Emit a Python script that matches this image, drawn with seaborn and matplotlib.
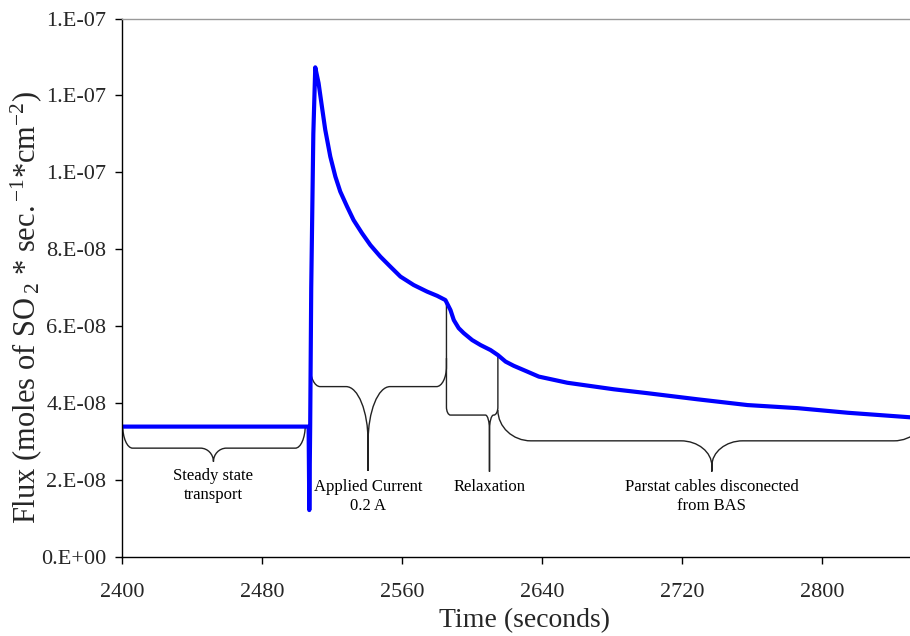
import matplotlib
matplotlib.use("Agg")
import matplotlib.pyplot as plt
from matplotlib.path import Path
from matplotlib.patches import PathPatch
from matplotlib.ticker import FuncFormatter, MultipleLocator
import seaborn as sns
import pandas as pd

# Measured SO2 flux through the membrane over time
time_s = [2400, 2506.5, 2506.9, 2507.4, 2508.0, 2509.2, 2510.3, 2512.2, 2514.1, 2516.0,
          2518.9, 2521.8, 2524.6, 2528.5, 2532.2, 2537.0, 2541.8, 2547.5, 2553.2, 2559.0,
          2566.6, 2574.2, 2580.0, 2584.7, 2587.6, 2589.5, 2592.3, 2595.2, 2600.0, 2604.8,
          2610.5, 2614.7, 2619.1, 2623.8, 2631.5, 2638.1, 2654.4, 2681.0, 2700.0, 2728.8,
          2757.4, 2786.0, 2814.7, 2851.0]
flux = [3.39e-8, 3.39e-8, 1.22e-8, 3.39e-8, 7.0e-8, 11.0e-8, 12.73e-8, 12.32e-8, 11.71e-8, 11.11e-8,
        10.41e-8, 9.89e-8, 9.50e-8, 9.11e-8, 8.76e-8, 8.42e-8, 8.11e-8, 7.81e-8, 7.55e-8, 7.29e-8,
        7.07e-8, 6.90e-8, 6.79e-8, 6.68e-8, 6.42e-8, 6.16e-8, 5.95e-8, 5.82e-8, 5.64e-8, 5.51e-8,
        5.38e-8, 5.25e-8, 5.08e-8, 4.97e-8, 4.82e-8, 4.69e-8, 4.53e-8, 4.36e-8, 4.26e-8, 4.10e-8,
        3.95e-8, 3.87e-8, 3.75e-8, 3.63e-8]

# Experiment phases marked with curly braces
phase_labels = ["Steady state\ntransport", "Applied Current\n0.2 A", "Relaxation",
                "Parstat cables disconected\nfrom BAS"]
phase_start = [2400.2, 2507.4, 2585.3, 2614.7]
phase_end = [2504.6, 2585.3, 2614.7, 2860.0]
phase_mid = [2452.1, 2540.5, 2609.9, 2737.0]

sns.set_theme(style="white")
plt.rcParams["font.family"] = ["Liberation Serif", "DejaVu Serif"]
plt.rcParams["mathtext.fontset"] = "custom"
plt.rcParams["mathtext.rm"] = "Liberation Serif"
plt.rcParams["mathtext.it"] = "Liberation Serif:italic"
plt.rcParams["mathtext.bf"] = "Liberation Serif:bold"

fig = plt.figure(figsize=(9.10, 6.36), dpi=100)
ax = fig.add_axes([122.3 / 910, 79 / 636, (927 - 122.3) / 910, (557 - 18.5) / 636])

df = pd.DataFrame({"Time": time_s, "Flux": flux})
sns.lineplot(data=df, x="Time", y="Flux", ax=ax, color="#0000FF", linewidth=3.0,
             solid_joinstyle="round", solid_capstyle="round")

ax.set_xlim(2400, 2860)
ax.set_ylim(0, 1.4e-7)
ax.xaxis.set_major_locator(MultipleLocator(80))
ax.yaxis.set_major_locator(MultipleLocator(2e-8))
ax.yaxis.set_major_formatter(FuncFormatter(lambda v, p: "%#.0E" % v))
ax.yaxis.get_offset_text().set_visible(False)

ax.tick_params(axis="both", which="major", direction="out", length=5, width=1,
               color="black", labelsize=16, left=True, bottom=True)
ax.tick_params(axis="x", pad=14)
ax.tick_params(axis="y", pad=6.5)
for side in ["left", "bottom"]:
    ax.spines[side].set_color("black")
    ax.spines[side].set_linewidth(1.0)
ax.spines["top"].set_color("#999999")
ax.spines["top"].set_linewidth(1.0)
ax.spines["right"].set_visible(False)

ax.set_xlabel("Time (seconds)", fontsize=20, labelpad=4)
ax.set_ylabel(r"Flux (moles of SO$\,_2$ * sec.$\,^{-1}$*cm$^{-2}$)", fontsize=22)
ax.yaxis.set_label_coords(-0.0977, 0.464)


def brace(ax, t0, t1, tm, y_top_l, y_top_r, y_flat, y_tip, rx, ry, cx, cy):
    k = 0.55
    verts, codes = [], []

    def move(p):
        verts.append(p); codes.append(Path.MOVETO)

    def line(p):
        verts.append(p); codes.append(Path.LINETO)

    def quarter(a, corner, b):
        c1 = (a[0] + k * (corner[0] - a[0]), a[1] + k * (corner[1] - a[1]))
        c2 = (b[0] + k * (corner[0] - b[0]), b[1] + k * (corner[1] - b[1]))
        verts.extend([c1, c2, b]); codes.extend([Path.CURVE4] * 3)

    move((t0, y_top_l))
    line((t0, y_flat + ry))
    quarter((t0, y_flat + ry), (t0, y_flat), (t0 + rx, y_flat))
    line((tm - cx, y_flat))
    quarter((tm - cx, y_flat), (tm, y_flat), (tm, y_flat - cy))
    line((tm, y_tip))
    move((tm, y_tip))
    line((tm, y_flat - cy))
    quarter((tm, y_flat - cy), (tm, y_flat), (tm + cx, y_flat))
    line((t1 - rx, y_flat))
    quarter((t1 - rx, y_flat), (t1, y_flat), (t1, y_flat + ry))
    line((t1, y_top_r))
    ax.add_patch(PathPatch(Path(verts, codes), facecolor="none", edgecolor="#222222",
                           linewidth=1.0, clip_on=True))


# brace geometry: end heights, flat level, tip, corner and cusp sizes
brace_top_l = [3.43e-8, 6.61e-8, 5.17e-8, 3.82e-8]
brace_top_r = [3.38e-8, 6.61e-8, 5.25e-8, 3.82e-8]
brace_flat = [2.83e-8, 4.43e-8, 3.69e-8, 3.02e-8]
brace_tip = [2.48e-8, 2.24e-8, 2.22e-8, 2.22e-8]
corner_rx = [5.7, 5.7, 2.3, 18.9]
corner_ry = [0.60e-8, 0.52e-8, 0.21e-8, 0.80e-8]
cusp_cx = [7.4, 12.6, 2.3, 17.7]
cusp_cy = [0.35e-8, 1.43e-8, 0.39e-8, 0.65e-8]
label_top = [2.31e-8, 2.02e-8, 2.02e-8, 2.02e-8]

for i, lab in enumerate(phase_labels):
    brace(ax, phase_start[i], phase_end[i], phase_mid[i], brace_top_l[i], brace_top_r[i],
          brace_flat[i], brace_tip[i], corner_rx[i], corner_ry[i], cusp_cx[i], cusp_cy[i])
    ax.text(phase_mid[i], label_top[i], lab, ha="center", va="top", fontsize=12,
            linespacing=1.2, color="black")

fig.savefig("out.png", dpi=100)
